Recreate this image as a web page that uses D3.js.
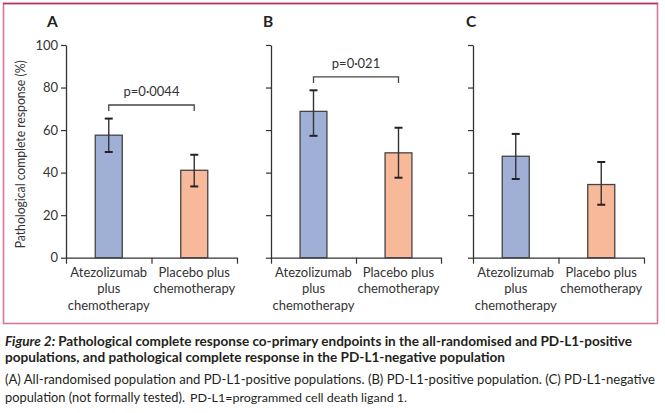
<!DOCTYPE html>
<html>
<head>
<meta charset="utf-8">
<script src="https://cdn.jsdelivr.net/npm/d3@7"></script>
<style>
  html, body { margin: 0; padding: 0; background: #fff; }
  svg { display: block; }
  text { font-family: Lato, "Open Sans", sans-serif; }
</style>
</head>
<body>
<svg id="chart" width="665" height="413"></svg>
<script>
// ---------- data ----------
const panelLetters = ["A", "B", "C"];
const categories = ["Atezolizumab plus chemotherapy", "Placebo plus chemotherapy"];
const categoryLines = [["Atezolizumab", "plus", "chemotherapy"], ["Placebo plus", "chemotherapy"]];
const pcrAtezo = [57.6, 68.8, 47.7];
const pcrPlacebo = [41.1, 49.3, 34.4];
const ciLowAtezo = [49.7, 57.3, 37.0];
const ciHighAtezo = [65.4, 78.7, 58.2];
const ciLowPlacebo = [33.5, 37.6, 24.9];
const ciHighPlacebo = [48.4, 61.1, 45.0];
const pLabels = ["p=0·0044", "p=0·021", null];
const bracketLevels = [71.8, 85.0, null];
const yTicks = [0, 20, 40, 60, 80, 100];
const yTitle = "Pathological complete response (%)";
const captionLines = [
  { parts: [{ t: "Figure 2: ", italic: true }, { t: "Pathological complete response co-primary endpoints in the all-randomised and PD-L1-positive" }], bold: true },
  { parts: [{ t: "populations, and pathological complete response in the PD-L1-negative population" }], bold: true },
  { parts: [{ t: "(A) All-randomised population and PD-L1-positive populations. (B) PD-L1-positive population. (C) PD-L1-negative" }], bold: false }
];
const captionLast = "population (not formally tested).";
const captionAbbrev = "PD-L1=programmed cell death ligand 1.";

// ---------- layout ----------
const panelX = [[66, 237], [271, 441], [473, 644]];
const letterX = [47, 263, 466];
const yTop = 45, yBottom = 257.7;
const colors = ["#9fafd6", "#f8b99a"];
const ink = "#333";

const svg = d3.select("#chart");

// frame
svg.append("rect").attr("x", 3.5).attr("y", 3.5).attr("width", 654).attr("height", 320)
  .attr("fill", "none").attr("stroke", "#d6779a").attr("stroke-width", 1.6);
svg.append("line").attr("x1", 3).attr("x2", 658).attr("y1", 3.5).attr("y2", 3.5)
  .attr("stroke", "#bf2e62").attr("stroke-width", 1.4);

const y = d3.scaleLinear().domain([0, 100]).range([yBottom, yTop]);

panelLetters.forEach((letter, i) => {
  const [x0, x1] = panelX[i];
  const g = svg.append("g");

  const x = d3.scaleBand().domain(categories).range([x0, x1])
    .paddingInner(0.684).paddingOuter(0.342);
  const xs = d3.scaleLinear().domain([0, 2]).range([x0, x1]);

  // y axis
  const yAxis = d3.axisLeft(y).tickValues(yTicks).tickSize(5).tickSizeOuter(0);
  if (i > 0) yAxis.tickFormat("");
  const ya = g.append("g").attr("transform", `translate(${x0},0)`).call(yAxis);
  ya.select(".domain").attr("stroke", ink).attr("stroke-width", 1.3);
  ya.selectAll(".tick line").attr("stroke", ink).attr("stroke-width", 1.2);
  ya.selectAll(".tick text").attr("fill", ink).style("font-size", "13px")
    .style("font-family", "Lato, sans-serif").attr("x", -8);

  // x axis
  const xAxis = d3.axisBottom(xs).tickValues([0, 1, 2]).tickFormat("").tickSize(6).tickSizeOuter(0);
  const xa = g.append("g").attr("transform", `translate(0,${yBottom})`).call(xAxis);
  xa.select(".domain").attr("stroke", ink).attr("stroke-width", 1.3);
  xa.selectAll(".tick line").attr("stroke", ink).attr("stroke-width", 1.2);

  const vals = [pcrAtezo[i], pcrPlacebo[i]];
  const lows = [ciLowAtezo[i], ciLowPlacebo[i]];
  const highs = [ciHighAtezo[i], ciHighPlacebo[i]];

  // bars
  g.selectAll("rect.bar").data(categories).enter().append("rect")
    .attr("x", d => x(d)).attr("width", x.bandwidth())
    .attr("y", (d, j) => y(vals[j])).attr("height", (d, j) => y(0) - y(vals[j]))
    .attr("fill", (d, j) => colors[j]).attr("stroke", "#444").attr("stroke-width", 1.3);

  // error bars
  categories.forEach((c, j) => {
    const cx = x(c) + x.bandwidth() / 2;
    g.append("line").attr("x1", cx).attr("x2", cx).attr("y1", y(lows[j])).attr("y2", y(highs[j]))
      .attr("stroke", "#333").attr("stroke-width", 1.4);
    [lows[j], highs[j]].forEach(v => {
      g.append("line").attr("x1", cx - 4).attr("x2", cx + 4).attr("y1", y(v)).attr("y2", y(v))
        .attr("stroke", "#222").attr("stroke-width", 2);
    });
  });

  // x labels
  categories.forEach((c, j) => {
    const cx = x(c) + x.bandwidth() / 2;
    const t = g.append("text").attr("text-anchor", "middle").attr("fill", ink)
      .style("font-size", "13px");
    categoryLines[j].forEach((line, k) => {
      t.append("tspan").attr("x", cx).attr("y", 276.7 + k * 16.7).text(line);
    });
  });

  // bracket
  if (pLabels[i]) {
    const ax = x(categories[0]) + x.bandwidth() / 2;
    const bx = x(categories[1]) + x.bandwidth() / 2;
    const by = y(bracketLevels[i]);
    g.append("path").attr("d", `M${ax},${by + 6}V${by}H${bx}V${by + 6}`)
      .attr("fill", "none").attr("stroke", "#444").attr("stroke-width", 1.3);
    g.append("text").attr("x", (ax + bx) / 2).attr("y", by - 9).attr("text-anchor", "middle")
      .attr("fill", ink).style("font-size", "13px").text(pLabels[i]);
  }

  // panel letter
  svg.append("text").attr("x", letterX[i]).attr("y", 27).attr("fill", "#222")
    .style("font-size", "15.5px").style("font-weight", "bold").text(letter);
});

// y title
svg.append("text").attr("transform", `translate(25,${(yTop + yBottom) / 2 + 3}) rotate(-90)`)
  .attr("text-anchor", "middle").attr("fill", ink).style("font-size", "12.5px")
  .attr("textLength", 188).attr("lengthAdjust", "spacingAndGlyphs").text(yTitle);

// caption
const capY = [346, 361.5, 384];
const capLen = [627, 500, 650];
captionLines.forEach((ln, k) => {
  const t = svg.append("text").attr("x", 5).attr("y", capY[k]).attr("fill", "#231f20")
    .style("font-size", ln.bold ? "13.8px" : "13.3px").style("font-weight", ln.bold ? "bold" : "normal")
    .attr("textLength", capLen[k]).attr("lengthAdjust", "spacingAndGlyphs");
  ln.parts.forEach(p => {
    t.append("tspan").style("font-style", p.italic ? "italic" : "normal").text(p.t);
  });
});
svg.append("text").attr("x", 5).attr("y", 402).attr("fill", "#231f20").style("font-size", "13.3px")
  .attr("textLength", 180).attr("lengthAdjust", "spacingAndGlyphs").text(captionLast);
svg.append("text").attr("x", 190).attr("y", 402).attr("fill", "#231f20").style("font-size", "11.8px")
  .attr("textLength", 217).attr("lengthAdjust", "spacingAndGlyphs").text(captionAbbrev);
</script>
</body>
</html>
